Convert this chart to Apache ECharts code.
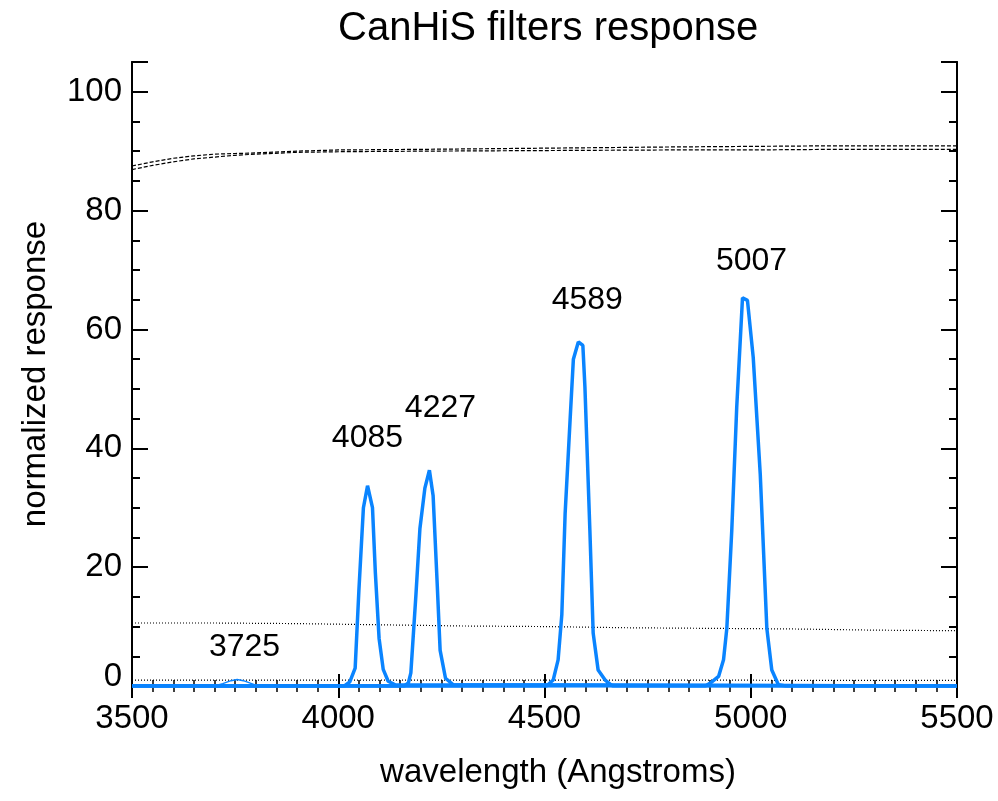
<!DOCTYPE html>
<html>
<head>
<meta charset="utf-8">
<script src="https://cdn.jsdelivr.net/npm/echarts@6/dist/echarts.min.js"></script>
<style>
html,body{margin:0;padding:0;background:#fff;}
#chart{width:998px;height:801px;}
</style>
</head>
<body>
<div id="chart"></div>
<script>
// ---- data ----
const xTicks = [3500, 4000, 4500, 5000, 5500];
const yTicks = [0, 20, 40, 60, 80, 100];

const wl3725 = [3500, 3700, 3720, 3740, 3755, 3770, 3790, 3805, 5500];
const resp3725 = [0, 0, 0.4, 0.9, 1.1, 0.9, 0.4, 0, 0];

const wl4085 = [3500, 4015, 4028, 4041, 4050, 4061, 4071, 4083, 4090, 4099, 4109, 4121, 4138, 5500];
const resp4085 = [0, 0, 0.7, 3.0, 16, 30.0, 33.7, 30.0, 19, 8, 2.8, 0.8, 0.2, 0];

const wl4227 = [3500, 4160, 4170, 4176, 4188, 4198, 4210, 4221, 4230, 4240, 4247, 4260, 4279, 5500];
const resp4227 = [0, 0, 0.5, 2.2, 15, 26.5, 33.3, 36.3, 32.0, 17, 6, 1.3, 0.2, 0];

const wl4589 = [3500, 4505, 4521, 4533, 4542, 4550, 4562, 4570, 4582, 4593, 4598, 4610, 4618, 4630, 4647, 4665, 5500];
const resp4589 = [0, 0, 1, 4.4, 12, 29, 44.7, 55, 57.9, 57.3, 50.3, 26.2, 8.9, 2.7, 1, 0, 0];

const wl5007 = [3500, 4890, 4902, 4922, 4934, 4942, 4954, 4966, 4980, 4992, 5006, 5023, 5039, 5051, 5067, 5085, 5500];
const resp5007 = [0, 0, 0.5, 1.6, 4.4, 9.7, 26.2, 46.9, 65.3, 64.9, 55.3, 35.7, 9.7, 2.7, 0.2, 0, 0];

const wlRef = [3500, 3550, 3600, 3650, 3700, 3750, 3800, 3900, 4000, 4200, 4500, 4800, 5000, 5200, 5500];
const dashUpper = [87.5, 88.2, 88.8, 89.2, 89.5, 89.6, 89.7, 90.0, 90.2, 90.3, 90.5, 90.7, 90.8, 90.9, 90.9];
const dashLower = [86.9, 87.6, 88.2, 88.7, 89.0, 89.3, 89.5, 89.8, 89.9, 90.0, 90.1, 90.2, 90.2, 90.3, 90.3];

const wlDot = [3500, 3700, 3900, 4100, 4300, 4500, 4700, 4900, 5100, 5300, 5500];
const dotUpper = [10.6, 10.6, 10.5, 10.3, 10.1, 10.0, 9.8, 9.7, 9.6, 9.4, 9.3];
const dotLower = [1.0, 1.0, 1.0, 1.0, 1.0, 1.0, 1.0, 1.0, 0.95, 0.95, 0.95];

const labelNames = ['3725', '4085', '4227', '4589', '5007'];
const labelX = [3774, 4072, 4249, 4605, 5003];
const labelY = [6.4, 41.7, 46.7, 64.9, 71.4];

// ---- helpers ----
const zip = (xs, ys) => xs.map((x, i) => [x, ys[i]]);
const FONT = 'Liberation Sans, Arial, Helvetica, sans-serif';
const BLUE = '#0a84ff';

function blueSeries(xs, ys, w) {
  return {
    type: 'line', data: zip(xs, ys), showSymbol: false, symbol: 'none',
    lineStyle: { color: BLUE, width: w }, z: 5, animation: false
  };
}
function refSeries(xs, ys, type) {
  return {
    type: 'line', data: zip(xs, ys), showSymbol: false, symbol: 'none',
    lineStyle: { color: '#000', width: 1.2, type: type }, z: 3, animation: false
  };
}

const axisLineStyle = { show: true, lineStyle: { color: '#000', width: 2 } };

function xAx(pos, showLabel) {
  return {
    type: 'value', position: pos, min: xTicks[0], max: xTicks[xTicks.length - 1], interval: 500,
    axisLine: axisLineStyle,
    axisTick: { show: true, inside: true, length: 12, lineStyle: { color: '#000', width: 2 } },
    minorTick: { show: true, splitNumber: 10, length: 6, lineStyle: { color: '#000', width: 1.5 } },
    splitLine: { show: false }, minorSplitLine: { show: false },
    axisLabel: {
      show: showLabel, color: '#000', fontSize: 33, fontFamily: FONT, margin: 16,
      formatter: v => (xTicks.indexOf(v) >= 0 ? String(v) : '')
    },
    name: showLabel ? 'wavelength (Angstroms)' : '',
    nameLocation: 'middle', nameGap: 70,
    nameTextStyle: { color: '#000', fontSize: 33, fontFamily: FONT, padding: [0, 0, 0, 27] }
  };
}
function yAx(pos, major, showLabel) {
  return {
    type: 'value', position: pos, min: 0, max: 105, interval: major ? 20 : 5,
    axisLine: axisLineStyle,
    axisTick: { show: true, inside: true, length: major ? 16 : 8, lineStyle: { color: '#000', width: 2 } },
    splitLine: { show: false },
    axisLabel: {
      show: showLabel, color: '#000', fontSize: 33, fontFamily: FONT, margin: 10,
      formatter: v => (yTicks.indexOf(v) >= 0 ? (v === 0 ? '{z|0}' : String(v)) : ''),
      rich: { z: { color: '#000', fontSize: 33, fontFamily: FONT, padding: [0, 0, 18, 0] } }
    },
    name: showLabel ? 'normalized response' : '',
    nameLocation: 'middle', nameGap: 80,
    nameTextStyle: { color: '#000', fontSize: 33, fontFamily: FONT }
  };
}

const chart = echarts.init(document.getElementById('chart'), null, { renderer: 'canvas' });
chart.setOption({
  animation: false,
  backgroundColor: '#fff',
  title: {
    text: 'CanHiS filters response', left: 333, top: 4,
    textStyle: { color: '#000', fontSize: 40, fontWeight: 'normal', fontFamily: FONT }
  },
  grid: { left: 132, right: 41, top: 62, bottom: 115, containLabel: false },
  xAxis: [xAx('bottom', true), xAx('top', false)],
  yAxis: [yAx('left', true, true), yAx('left', false, false), yAx('right', true, false), yAx('right', false, false)],
  series: [
    refSeries(wlRef, dashUpper, [4, 2]),
    refSeries(wlRef, dashLower, [4, 2]),
    refSeries(wlDot, dotUpper, [1, 2]),
    refSeries(wlDot, dotLower, [1, 2]),
    blueSeries(wl3725, resp3725, 1.5),
    blueSeries(wl4085, resp4085, 3.5),
    blueSeries(wl4227, resp4227, 3.5),
    blueSeries(wl4589, resp4589, 3.5),
    blueSeries(wl5007, resp5007, 3.5),
    {
      type: 'scatter', symbolSize: 1, z: 6, animation: false,
      itemStyle: { opacity: 0 },
      data: labelNames.map((n, i) => ({ name: n, value: [labelX[i], labelY[i]] })),
      label: {
        show: true, position: [0, 0], align: 'center', verticalAlign: 'middle',
        formatter: p => p.name, opacity: 1,
        color: '#000', fontSize: 32, fontFamily: FONT
      }
    }
  ]
});
</script>
</body>
</html>
